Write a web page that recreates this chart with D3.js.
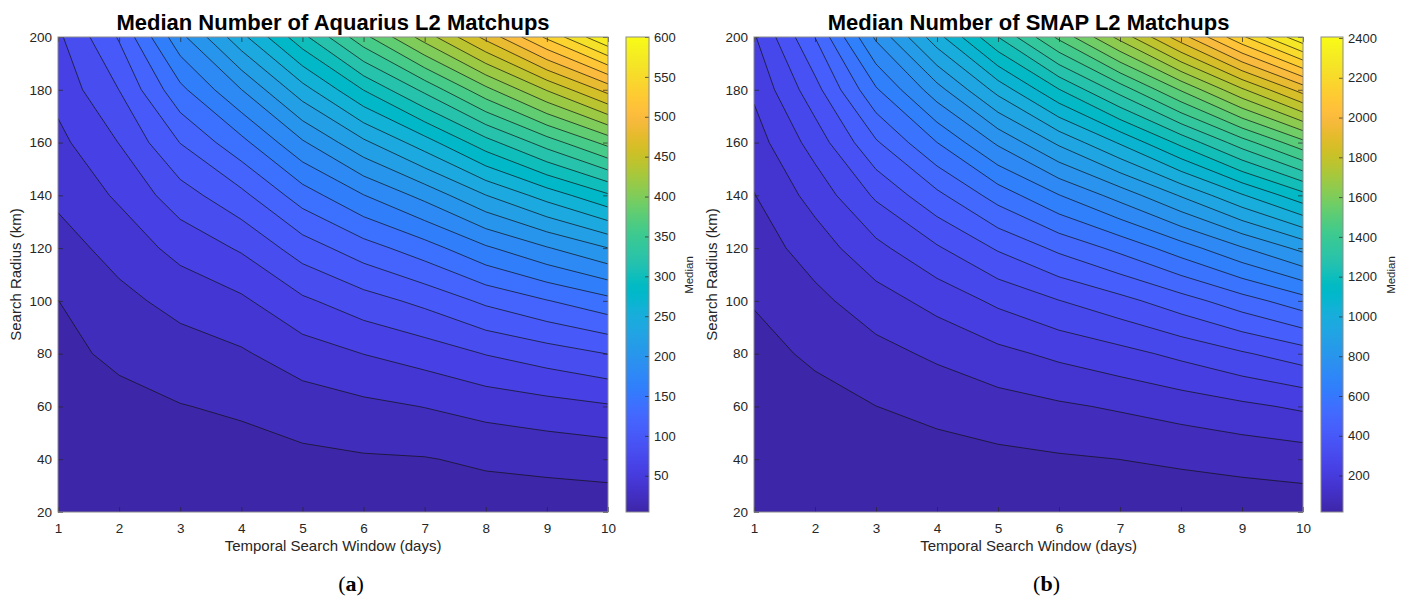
<!DOCTYPE html>
<html>
<head>
<meta charset="utf-8">
<script src="https://cdn.jsdelivr.net/npm/d3@7"></script>
<style>
  body { margin: 0; background: #fff; }
  svg { display: block; font-family: "Liberation Sans", Arial, Helvetica, sans-serif; }
</style>
</head>
<body>
<svg id="chart" width="1408" height="601"></svg>
<script>
// ---------------- data ----------------
const days = [1, 2, 3, 4, 5, 6, 7, 8, 9, 10];            // Temporal Search Window (days)
const radii = [20, 40, 60, 80, 100, 120, 140, 160, 180, 200]; // Search Radius (km)

// Median number of Aquarius L2 matchups; one row per radius, one column per day
const aquariusMedian = [
  [4.6, 5.2, 5.7, 6.1, 6.9, 7.5, 8.1, 8.8, 9.4, 10.0],
  [6.6, 8.9, 10.8, 12.4, 15.6, 18.0, 19.0, 23.2, 25.6, 28.0],
  [9.8, 13.5, 19.3, 22.9, 30.1, 35.5, 40.5, 47.2, 52.6, 58.0],
  [14.2, 24.5, 31.2, 37.6, 50.4, 60.3, 68.8, 80.8, 90.4, 100.4],
  [19.8, 34.5, 46.5, 56.5, 76.5, 91.5, 105.3, 124.0, 139.0, 154.0],
  [31.4, 47.6, 66.6, 82.5, 109.8, 131.4, 151.2, 176.9, 198.4, 219.7],
  [44.2, 63.0, 91.2, 114.7, 150.0, 179.4, 206.4, 239.6, 268.6, 297.2],
  [54.6, 80.5, 120.5, 153.8, 197.3, 235.7, 270.9, 312.0, 349.6, 386.5],
  [66.4, 100.2, 154.7, 199.6, 251.9, 300.5, 345.0, 394.1, 441.4, 487.4],
  [76.0, 122.0, 194.0, 254.0, 314.0, 374.0, 429.0, 486.0, 544.0, 600.0]
];

// Median number of SMAP L2 matchups; one row per radius, one column per day
const smapMedian = [
  [16.7, 18.6, 21.0, 23.2, 25.6, 27.8, 29.8, 32.4, 35.2, 38.1],
  [24.7, 32.4, 41.8, 50.7, 60.5, 69.2, 77.3, 87.4, 98.7, 110.2],
  [38.1, 55.4, 76.6, 96.6, 118.7, 138.2, 156.4, 179.2, 204.6, 230.5],
  [56.9, 87.6, 125.2, 160.9, 200.1, 234.8, 267.1, 307.6, 352.9, 398.8],
  [81.0, 129.0, 187.8, 243.5, 304.8, 359.0, 409.5, 472.8, 543.5, 615.3],
  [110.5, 181.8, 270.8, 352.5, 440.4, 519.4, 593.5, 682.9, 780.9, 878.8],
  [145.3, 245.3, 372.4, 485.8, 604.8, 713.7, 816.2, 935.7, 1064.0, 1189.7],
  [185.5, 319.9, 493.7, 644.5, 799.4, 943.3, 1079.5, 1232.6, 1393.3, 1547.8],
  [231.1, 406.0, 635.9, 830.2, 1025.4, 1209.6, 1384.8, 1574.9, 1769.8, 1953.0],
  [282.0, 504.0, 800.0, 1044.0, 1284.0, 1514.0, 1734.0, 1964.0, 2194.0, 2405.0]
];

// contour levels and colorbar ticks
const aquariusLevels = d3.range(20, 600, 20);
const smapLevels = d3.range(77, 2400, 71);
const aquariusCbTicks = [50, 100, 150, 200, 250, 300, 350, 400, 450, 500, 550, 600];
const smapCbTicks = [200, 400, 600, 800, 1000, 1200, 1400, 1600, 1800, 2000, 2200, 2400];

// MATLAB parula (64)
const parulaStops = [
[0.2422,0.1504,0.6603],[0.2504,0.1650,0.7076],[0.2578,0.1818,0.7511],[0.2647,0.1978,0.7952],
[0.2706,0.2147,0.8364],[0.2751,0.2342,0.8710],[0.2783,0.2559,0.8991],[0.2803,0.2782,0.9221],
[0.2813,0.3006,0.9414],[0.2810,0.3228,0.9579],[0.2795,0.3447,0.9717],[0.2760,0.3667,0.9829],
[0.2699,0.3892,0.9906],[0.2602,0.4123,0.9952],[0.2440,0.4358,0.9988],[0.2206,0.4603,0.9973],
[0.1963,0.4847,0.9892],[0.1834,0.5074,0.9798],[0.1786,0.5289,0.9682],[0.1764,0.5499,0.9520],
[0.1687,0.5703,0.9359],[0.1540,0.5902,0.9218],[0.1460,0.6091,0.9079],[0.1380,0.6276,0.8973],
[0.1248,0.6459,0.8883],[0.1113,0.6635,0.8763],[0.0952,0.6798,0.8598],[0.0689,0.6948,0.8394],
[0.0297,0.7082,0.8163],[0.0036,0.7203,0.7917],[0.0067,0.7312,0.7660],[0.0433,0.7411,0.7394],
[0.0964,0.7500,0.7120],[0.1408,0.7584,0.6842],[0.1717,0.7670,0.6554],[0.1938,0.7758,0.6251],
[0.2161,0.7843,0.5923],[0.2470,0.7918,0.5567],[0.2906,0.7973,0.5188],[0.3406,0.8008,0.4789],
[0.3909,0.8029,0.4354],[0.4456,0.8024,0.3909],[0.5044,0.7993,0.3480],[0.5616,0.7942,0.3045],
[0.6174,0.7876,0.2612],[0.6720,0.7793,0.2227],[0.7242,0.7698,0.1910],[0.7738,0.7598,0.1646],
[0.8203,0.7498,0.1535],[0.8634,0.7406,0.1596],[0.9035,0.7330,0.1774],[0.9393,0.7288,0.2100],
[0.9728,0.7298,0.2394],[0.9956,0.7434,0.2371],[0.9970,0.7659,0.2199],[0.9952,0.7893,0.2028],
[0.9892,0.8136,0.1885],[0.9786,0.8386,0.1766],[0.9676,0.8639,0.1643],[0.9610,0.8890,0.1537],
[0.9597,0.9135,0.1423],[0.9628,0.9373,0.1265],[0.9691,0.9606,0.1064],[0.9769,0.9839,0.0805]
];

// ---------------- drawing ----------------
const svg = d3.select('#chart');
const defs = svg.append('defs');
const parula = d3.scaleLinear()
  .domain(parulaStops.map((_, i) => i / (parulaStops.length - 1)))
  .range(parulaStops.map(c => d3.rgb(c[0] * 255, c[1] * 255, c[2] * 255).toString()))
  .interpolate(d3.interpolateRgb)
  .clamp(true);

const TEXT = '#262626';
const BOX = '#8a8a8a';
const intFmt = d3.format('d');

const panels = [
  { key: 'a', data: aquariusMedian, levels: aquariusLevels, cbTicks: aquariusCbTicks,
    title: 'Median Number of Aquarius L2 Matchups',
    left: 58, top: 37, width: 550, height: 475, cbX: 626, cbW: 23,
    yLabelX: 21, medianX: 693 },
  { key: 'b', data: smapMedian, levels: smapLevels, cbTicks: smapCbTicks,
    title: 'Median Number of SMAP L2 Matchups',
    left: 754, top: 37, width: 549, height: 475, cbX: 1321, cbW: 22,
    yLabelX: 717, medianX: 1395 }
];

function styleAxis(g, size) {
  g.attr('font-family', null).attr('font-size', null);
  g.selectAll('.tick line').attr('stroke', TEXT).attr('stroke-width', 0.7);
  g.selectAll('.tick text').attr('fill', TEXT).style('font-size', size + 'px');
  g.select('.domain').remove();
}

panels.forEach(cfg => {
  const { left, top, width, height } = cfg;
  const xs = d3.scaleLinear().domain([days[0], days[days.length - 1]]).range([left, left + width]);
  const ys = d3.scaleLinear().domain([radii[0], radii[radii.length - 1]]).range([top + height, top]);
  const values = cfg.data.flat();
  const zmin = d3.min(values), zmax = d3.max(values);
  const color = v => parula((v - zmin) / (zmax - zmin));

  const clipId = 'clip-' + cfg.key;
  defs.append('clipPath').attr('id', clipId)
    .append('rect').attr('x', left).attr('y', top).attr('width', width).attr('height', height);

  const g = svg.append('g').attr('clip-path', `url(#${clipId})`);
  g.append('rect').attr('x', left).attr('y', top).attr('width', width).attr('height', height)
    .attr('fill', color(zmin));

  const contours = d3.contours().size([days.length, radii.length]).thresholds(cfg.levels)(values);
  const dx = days[1] - days[0], dr = radii[1] - radii[0];
  const proj = d3.geoTransform({
    point(x, y) { this.stream.point(xs(days[0] + (x - 0.5) * dx), ys(radii[0] + (y - 0.5) * dr)); }
  });
  const path = d3.geoPath(proj);

  g.selectAll('path.fill').data(contours).join('path').attr('class', 'fill')
    .attr('d', path).attr('fill', d => color(d.value)).attr('fill-rule', 'evenodd').attr('stroke', 'none');
  g.selectAll('path.line').data(contours).join('path').attr('class', 'line')
    .attr('d', path).attr('fill', 'none').attr('stroke', '#111').attr('stroke-width', 0.7)
    .attr('stroke-linejoin', 'round');

  // axes (ticks pointing inward, box on)
  styleAxis(svg.append('g').attr('transform', `translate(0,${top + height})`)
    .call(d3.axisBottom(xs).tickValues(days).tickSizeInner(-5).tickSizeOuter(0).tickPadding(11).tickFormat(intFmt)), 13.5);
  styleAxis(svg.append('g').attr('transform', `translate(0,${top})`)
    .call(d3.axisTop(xs).tickValues(days).tickSizeInner(-5).tickSizeOuter(0).tickFormat('')), 13.5);
  styleAxis(svg.append('g').attr('transform', `translate(${left},0)`)
    .call(d3.axisLeft(ys).tickValues(radii).tickSizeInner(-5).tickSizeOuter(0).tickPadding(6).tickFormat(intFmt)), 13.5);
  styleAxis(svg.append('g').attr('transform', `translate(${left + width},0)`)
    .call(d3.axisRight(ys).tickValues(radii).tickSizeInner(-5).tickSizeOuter(0).tickFormat('')), 13.5);

  svg.append('rect').attr('x', left).attr('y', top).attr('width', width).attr('height', height)
    .attr('fill', 'none').attr('stroke', BOX).attr('stroke-width', 1);

  // titles and labels
  svg.append('text').attr('x', left + width / 2).attr('y', 29.5).attr('text-anchor', 'middle')
    .attr('font-weight', 'bold').attr('font-size', 22).attr('fill', '#000').text(cfg.title);
  svg.append('text').attr('x', left + width / 2).attr('y', 551).attr('text-anchor', 'middle')
    .attr('font-size', 15).attr('fill', TEXT).text('Temporal Search Window (days)');
  svg.append('text').attr('transform', `translate(${cfg.yLabelX},${top + height / 2}) rotate(-90)`)
    .attr('text-anchor', 'middle').attr('font-size', 15).attr('fill', TEXT).text('Search Radius (km)');

  // colorbar
  const gradId = 'grad-' + cfg.key;
  const grad = defs.append('linearGradient').attr('id', gradId)
    .attr('x1', 0).attr('y1', 1).attr('x2', 0).attr('y2', 0);
  parulaStops.forEach((c, i) => {
    grad.append('stop').attr('offset', i / (parulaStops.length - 1))
      .attr('stop-color', d3.rgb(c[0] * 255, c[1] * 255, c[2] * 255).toString());
  });
  svg.append('rect').attr('x', cfg.cbX).attr('y', top).attr('width', cfg.cbW).attr('height', height)
    .attr('fill', `url(#${gradId})`);
  const cbScale = d3.scaleLinear().domain([zmin, zmax]).range([top + height, top]);
  styleAxis(svg.append('g').attr('transform', `translate(${cfg.cbX + cfg.cbW},0)`)
    .call(d3.axisRight(cbScale).tickValues(cfg.cbTicks).tickSizeInner(-4).tickSizeOuter(0).tickPadding(5).tickFormat(intFmt)), 13);
  svg.append('rect').attr('x', cfg.cbX).attr('y', top).attr('width', cfg.cbW).attr('height', height)
    .attr('fill', 'none').attr('stroke', BOX).attr('stroke-width', 1);
  svg.append('text').attr('transform', `translate(${cfg.medianX},${top + height / 2 + 0.5}) rotate(-90)`)
    .attr('text-anchor', 'middle').attr('font-size', 11.5).attr('fill', TEXT).text('Median');

  // panel letter
  const lt = svg.append('text').attr('x', left + width / 2 + 18).attr('y', 591).attr('text-anchor', 'middle')
    .attr('font-family', '"Liberation Serif", "DejaVu Serif", serif').attr('font-size', 22).attr('fill', '#000');
  lt.append('tspan').text('(');
  lt.append('tspan').attr('font-weight', 'bold').text(cfg.key);
  lt.append('tspan').text(')');
});
</script>
</body>
</html>
